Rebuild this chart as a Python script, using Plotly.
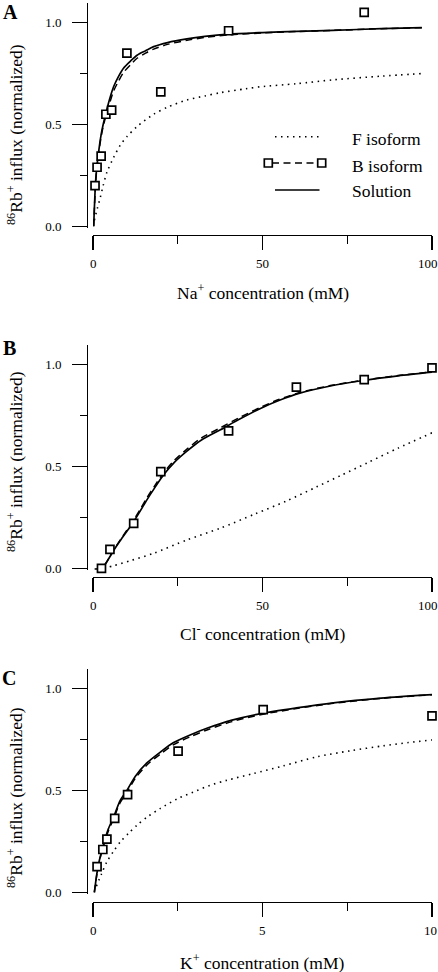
import plotly.graph_objects as go

W, H = 438, 972
FONT = "'Liberation Serif', 'Times New Roman', Times, 'DejaVu Serif', serif"

# ---------------- data ----------------
# Panel A: Na+
na_conc = [0.6, 1.2, 2.4, 3.8, 5.5, 10, 20, 40, 80]
na_flux_b = [0.20, 0.29, 0.345, 0.55, 0.57, 0.85, 0.66, 0.96, 1.05]
na_fit_x = [0.2, 0.7, 1.0, 1.7, 2.4, 3.0, 4.1, 5.0, 6.1, 7.5, 9.0, 11, 13, 15.5, 17.9, 22, 27.7, 33, 40, 50, 60, 70.8, 85, 97]
na_solution = [0.0, 0.2, 0.27, 0.37, 0.45, 0.50, 0.575, 0.63, 0.686, 0.735, 0.776, 0.81, 0.84, 0.862, 0.882, 0.902, 0.92, 0.932, 0.943, 0.951, 0.957, 0.962, 0.97, 0.975]
na_b_fit = [0.0, 0.19, 0.26, 0.36, 0.44, 0.49, 0.56, 0.61, 0.665, 0.712, 0.755, 0.792, 0.825, 0.85, 0.87, 0.893, 0.913, 0.927, 0.94, 0.949, 0.956, 0.962, 0.97, 0.975]
na_f_x = [0.4, 1.0, 2.2, 3.0, 4.1, 6.0, 8.1, 10, 13, 17.9, 22, 27.7, 33, 37.6, 45, 49.4, 60, 70.9, 85, 97]
na_f_fit = [0.03, 0.07, 0.145, 0.2, 0.265, 0.335, 0.40, 0.44, 0.49, 0.55, 0.585, 0.62, 0.64, 0.656, 0.675, 0.685, 0.70, 0.719, 0.737, 0.75]

# Panel B: Cl-
cl_conc = [2.5, 5, 12, 20, 40, 60, 80, 100]
cl_flux_b = [0.0, 0.093, 0.221, 0.475, 0.675, 0.889, 0.926, 0.984]
cl_fit_x = [0.5, 2.6, 4, 6, 8, 10, 12, 14, 15.9, 18, 20.9, 24, 27.7, 32, 37.6, 43, 49.4, 55, 61, 70, 79.7, 90, 100]
cl_solution = [-0.005, 0.0, 0.03, 0.085, 0.135, 0.182, 0.229, 0.283, 0.336, 0.39, 0.46, 0.52, 0.575, 0.63, 0.68, 0.73, 0.785, 0.825, 0.86, 0.895, 0.922, 0.945, 0.963]
cl_b_fit = [-0.005, 0.0, 0.03, 0.087, 0.138, 0.188, 0.236, 0.292, 0.346, 0.40, 0.47, 0.53, 0.585, 0.64, 0.69, 0.738, 0.79, 0.83, 0.863, 0.897, 0.923, 0.946, 0.964]
cl_f_x = [3.2, 6, 11, 17.9, 27.7, 37.6, 47.8, 57, 66, 73, 80.7, 90, 100]
cl_f_fit = [0.0, 0.012, 0.037, 0.074, 0.139, 0.197, 0.267, 0.33, 0.40, 0.455, 0.516, 0.59, 0.665]

# Panel C: K+
k_conc = [0.12, 0.29, 0.41, 0.64, 1.02, 2.51, 5.02, 10]
k_flux_b = [0.126, 0.21, 0.261, 0.363, 0.48, 0.693, 0.897, 0.866]
k_fit_x = [0.04, 0.15, 0.27, 0.45, 0.61, 0.8, 1.0, 1.25, 1.59, 2.0, 2.38, 2.9, 3.36, 4.1, 4.94, 6.0, 7.09, 8.5, 10]
k_solution = [0.0, 0.128, 0.21, 0.31, 0.37, 0.45, 0.50, 0.57, 0.635, 0.69, 0.735, 0.775, 0.805, 0.845, 0.877, 0.905, 0.93, 0.953, 0.97]
k_b_fit = [0.0, 0.125, 0.205, 0.30, 0.362, 0.44, 0.49, 0.56, 0.625, 0.68, 0.725, 0.766, 0.797, 0.838, 0.872, 0.902, 0.928, 0.952, 0.97]
k_f_x = [0.1, 0.25, 0.41, 0.6, 0.81, 1.05, 1.3, 1.6, 1.99, 2.5, 2.97, 3.45, 3.95, 4.73, 5.6, 6.6, 7.6, 8.56, 9.3, 10]
k_f_fit = [0.03, 0.09, 0.15, 0.2, 0.248, 0.29, 0.33, 0.37, 0.412, 0.46, 0.493, 0.525, 0.55, 0.583, 0.62, 0.665, 0.695, 0.719, 0.735, 0.748]

panel_letters = ["A", "B", "C"]
x_titles = ["Na<sup>+</sup> concentration (mM)",
            "Cl<sup>-</sup> concentration (mM)",
            "K<sup>+</sup> concentration (mM)"]
y_title = "<sup>86</sup>Rb<sup>+</sup> influx (normalized)"
legend_labels = ["F isoform", "B isoform", "Solution"]
x_tickvals = [[0, 50, 100], [0, 50, 100], [0, 5, 10]]
x_ticktext = [["0", "50", "100"], ["0", "50", "100"], ["0", "5", "10"]]
x_max = [100, 100, 10]
y_ticks = [0.0, 0.5, 1.0]
y_ticktext = ["0.0", "0.5", "1.0"]

# ---------------- layout geometry (pixels) ----------------
def fx(px):
    return px / W

def fy(py):
    return 1 - py / H

PPU = 203.7           # pixels per unit on y
Y_TOP_VAL = 1.095
Y_MIN = -0.006
X_LEFT, X_RIGHT = 93, 432
Y_AXIS_X = 87
LAST_LABEL_SHIFT = [-4.5, -4.5, -2]   # keep the last x tick label inside the page

geo = [
    dict(y0=226.3, xax=234.5, letter=(10.5, 12.5), xt=292, yt=135),
    dict(y0=568.3, xax=576.8, letter=(9.5, 347.5), xt=633, yt=462),
    dict(y0=892.3, xax=901.5, letter=(8.5, 677.5), xt=961.5, yt=798),
]

series = [
    (na_conc, na_flux_b, na_fit_x, na_solution, na_b_fit, na_f_x, na_f_fit),
    (cl_conc, cl_flux_b, cl_fit_x, cl_solution, cl_b_fit, cl_f_x, cl_f_fit),
    (k_conc, k_flux_b, k_fit_x, k_solution, k_b_fit, k_f_x, k_f_fit),
]

DOT = "1.5px,4.5px"
DASH = "7px,4.5px"

fig = go.Figure()
layout = dict(
    width=W, height=H,
    margin=dict(l=0, r=0, t=0, b=0, autoexpand=False),
    paper_bgcolor="white", plot_bgcolor="white",
    showlegend=False,
    font=dict(family=FONT, color="black"),
)
annotations = []
shapes = []

for i, g in enumerate(geo):
    n = "" if i == 0 else str(i + 1)
    xa, ya = "x" + n, "y" + n
    cx, cy, fitx, sol, bfit, fxs, ffit = series[i]

    ytop = g["y0"] - Y_TOP_VAL * PPU
    ybot = g["y0"] - Y_MIN * PPU
    layout["xaxis" + n] = dict(
        domain=[fx(X_LEFT), fx(X_RIGHT)], range=[0, x_max[i]],
        anchor="free", position=fy(g["xax"]),
        showline=True, linecolor="black", linewidth=1.3,
        ticks="outside", ticklen=14, tickwidth=1.3, tickcolor="black",
        tickvals=x_tickvals[i], showticklabels=False,
        minor=dict(tickvals=[x_max[i] * 0.25, x_max[i] * 0.75], ticks="outside", ticklen=8,
                   tickwidth=1.3, tickcolor="black", showgrid=False),
        showgrid=False, zeroline=False, automargin=False,
    )
    layout["yaxis" + n] = dict(
        domain=[fy(ybot), fy(ytop)], range=[Y_MIN, Y_TOP_VAL],
        anchor="free", position=fx(Y_AXIS_X),
        showline=True, linecolor="black", linewidth=1.3,
        ticks="outside", ticklen=15, tickwidth=1.3, tickcolor="black",
        tickvals=y_ticks, ticktext=y_ticktext,
        minor=dict(tickvals=[0.25, 0.75], ticks="outside", ticklen=7,
                   tickwidth=1.3, tickcolor="black", showgrid=False),
        showgrid=False, zeroline=False, automargin=False,
        tickfont=dict(family=FONT, size=13, color="black"),
        ticklabelstandoff=8, ticklabeloverflow="allow",
    )

    # x tick labels, placed on the axis' own data scale
    for j, (tv, tt) in enumerate(zip(x_tickvals[i], x_ticktext[i])):
        annotations.append(dict(text=tt, xref=xa, yref="paper", x=tv, y=fy(g["xax"] + 28.7),
                                xanchor="center", yanchor="middle", showarrow=False,
                                xshift=LAST_LABEL_SHIFT[i] if j == len(x_tickvals[i]) - 1 else 0,
                                font=dict(family=FONT, size=13, color="black")))

    fig.add_trace(go.Scatter(x=fxs, y=ffit, mode="lines", xaxis=xa, yaxis=ya,
                             line=dict(color="black", width=1.6, dash=DOT,
                                       shape="spline", smoothing=0.8),
                             name=legend_labels[0]))
    fig.add_trace(go.Scatter(x=fitx, y=bfit, mode="lines", xaxis=xa, yaxis=ya,
                             line=dict(color="black", width=1.5, dash=DASH,
                                       shape="spline", smoothing=0.8),
                             name=legend_labels[1] + " fit"))
    fig.add_trace(go.Scatter(x=fitx, y=sol, mode="lines", xaxis=xa, yaxis=ya,
                             line=dict(color="black", width=1.7,
                                       shape="spline", smoothing=0.8),
                             name=legend_labels[2]))
    fig.add_trace(go.Scatter(x=cx, y=cy, mode="markers", xaxis=xa, yaxis=ya,
                             cliponaxis=False,
                             marker=dict(symbol="square", size=8, color="white",
                                         line=dict(color="black", width=1.7)),
                             name=legend_labels[1]))

    # panel letter
    annotations.append(dict(text="<b>%s</b>" % panel_letters[i], xref="paper", yref="paper",
                            x=fx(g["letter"][0]), y=fy(g["letter"][1]),
                            xanchor="center", yanchor="middle", showarrow=False,
                            font=dict(family=FONT, size=20, color="black")))
    # x title
    annotations.append(dict(text=x_titles[i], xref="paper", yref="paper",
                            x=fx((X_LEFT + X_RIGHT) / 2), y=fy(g["xt"]),
                            xanchor="center", yanchor="middle", showarrow=False,
                            font=dict(family=FONT, size=17.5, color="black")))
    # y title
    annotations.append(dict(text=y_title, xref="paper", yref="paper",
                            x=fx(15), y=fy(g["yt"]), textangle=-90,
                            xanchor="center", yanchor="middle", showarrow=False,
                            font=dict(family=FONT, size=17.5, color="black")))

# ---------------- legend (panel A) ----------------
leg_text_x = 350
leg_rows = [136.7, 163.0, 190.0]
leg_text_y = [139.5, 166.5, 191.5]
shapes.append(dict(type="line", xref="paper", yref="paper",
                   x0=fx(275), x1=fx(318.5), y0=fy(leg_rows[0]), y1=fy(leg_rows[0]),
                   line=dict(color="black", width=1.6, dash=DOT)))
shapes.append(dict(type="line", xref="paper", yref="paper",
                   x0=fx(272), x1=fx(318), y0=fy(leg_rows[1]), y1=fy(leg_rows[1]),
                   line=dict(color="black", width=1.5, dash=DASH)))
for sqx in (268.3, 321.7):
    shapes.append(dict(type="rect", xref="paper", yref="paper",
                       x0=fx(sqx - 4), x1=fx(sqx + 4),
                       y0=fy(leg_rows[1] + 4), y1=fy(leg_rows[1] - 4),
                       fillcolor="white", line=dict(color="black", width=1.7)))
shapes.append(dict(type="line", xref="paper", yref="paper",
                   x0=fx(275), x1=fx(319.5), y0=fy(leg_rows[2]), y1=fy(leg_rows[2]),
                   line=dict(color="black", width=1.7)))
for lbl, ty in zip(legend_labels, leg_text_y):
    annotations.append(dict(text=lbl, xref="paper", yref="paper",
                            x=fx(leg_text_x), y=fy(ty), xanchor="left", yanchor="middle",
                            showarrow=False,
                            font=dict(family=FONT, size=17.5, color="black")))

layout["annotations"] = annotations
layout["shapes"] = shapes
fig.update_layout(**layout)
fig.write_html("out.html", config={"displayModeBar": False, "staticPlot": True},
               post_script="document.body.style.margin='0';document.body.style.overflow='hidden';")
